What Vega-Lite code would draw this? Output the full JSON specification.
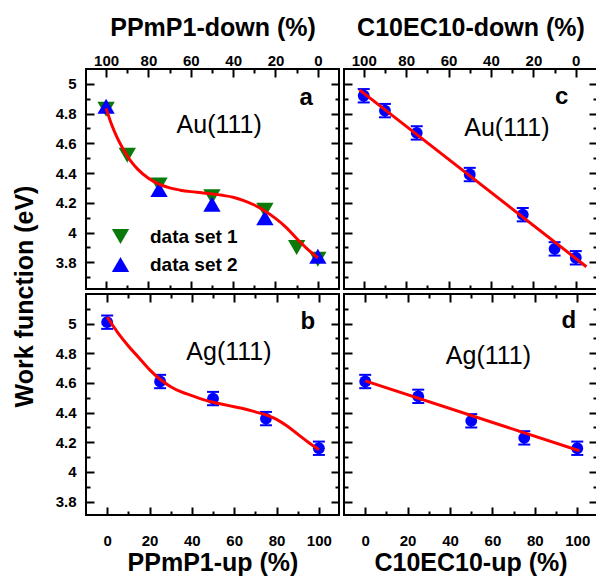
{
 "$schema": "https://vega.github.io/schema/vega-lite/v6.json",
 "background": "white",
 "padding": {"left": 11, "top": 14, "right": 0, "bottom": 0},
 "autosize": {"type": "pad"},
 "config": {
  "font": "Liberation Sans",
  "view": {"stroke": "black", "strokeWidth": 2},
  "axis": {"grid": false, "domain": false, "tickColor": "black", "tickWidth": 2, "labelColor": "black", "labelFont": "Liberation Sans", "labelFontSize": 15, "labelFontWeight": "bold", "titleColor": "black", "titleFont": "Liberation Sans", "titleFontSize": 25, "titleFontWeight": "bold", "labelFlush": false, "labelOverlap": false},
  "legend": {"labelFont": "Liberation Sans", "labelFontSize": 19, "labelFontWeight": "bold", "labelColor": "black"}
 },
 "datasets": {
  "a1": [
   {"down": 100, "wf": 4.83, "set": "data set 1"},
   {"down": 90, "wf": 4.52, "set": "data set 1"},
   {"down": 75, "wf": 4.32, "set": "data set 1"},
   {"down": 50, "wf": 4.24, "set": "data set 1"},
   {"down": 25, "wf": 4.15, "set": "data set 1"},
   {"down": 10, "wf": 3.9, "set": "data set 1"},
   {"down": 0, "wf": 3.82, "set": "data set 1"}
  ],
  "a2": [
   {"down": 100, "wf": 4.85, "set": "data set 2"},
   {"down": 75, "wf": 4.29, "set": "data set 2"},
   {"down": 50, "wf": 4.19, "set": "data set 2"},
   {"down": 25, "wf": 4.1, "set": "data set 2"},
   {"down": 0, "wf": 3.84, "set": "data set 2"}
  ],
  "afit": [
   {"down": 100, "wf": 4.835}, {"down": 97.5, "wf": 4.73}, {"down": 95, "wf": 4.645}, {"down": 92.5, "wf": 4.575},
   {"down": 90, "wf": 4.515}, {"down": 87.5, "wf": 4.465}, {"down": 85, "wf": 4.425}, {"down": 80, "wf": 4.365},
   {"down": 75, "wf": 4.325}, {"down": 70, "wf": 4.3}, {"down": 65, "wf": 4.285}, {"down": 60, "wf": 4.275},
   {"down": 55, "wf": 4.268}, {"down": 50, "wf": 4.26}, {"down": 45, "wf": 4.25}, {"down": 40, "wf": 4.237},
   {"down": 35, "wf": 4.215}, {"down": 30, "wf": 4.185}, {"down": 25, "wf": 4.145}, {"down": 20, "wf": 4.095},
   {"down": 15, "wf": 4.035}, {"down": 10, "wf": 3.96}, {"down": 5, "wf": 3.89}, {"down": 0, "wf": 3.83}
  ],
  "alab": [{"x": 46.6, "y": 4.67, "t": "Au(111)"}],
  "alet": [{"x": 5.5, "y": 4.861, "t": "a"}],
  "bpts": [
   {"up": 0, "wf": 5.01, "lo": 4.965, "hi": 5.055},
   {"up": 25, "wf": 4.61, "lo": 4.565, "hi": 4.655},
   {"up": 50, "wf": 4.495, "lo": 4.45, "hi": 4.54},
   {"up": 75, "wf": 4.36, "lo": 4.315, "hi": 4.405},
   {"up": 100, "wf": 4.16, "lo": 4.115, "hi": 4.205}
  ],
  "bfit": [
   {"up": 0, "wf": 5.045}, {"up": 5, "wf": 4.94}, {"up": 10, "wf": 4.85}, {"up": 15, "wf": 4.77},
   {"up": 20, "wf": 4.69}, {"up": 25, "wf": 4.625}, {"up": 30, "wf": 4.575}, {"up": 35, "wf": 4.54},
   {"up": 40, "wf": 4.515}, {"up": 45, "wf": 4.49}, {"up": 50, "wf": 4.47}, {"up": 55, "wf": 4.455},
   {"up": 60, "wf": 4.44}, {"up": 65, "wf": 4.425}, {"up": 70, "wf": 4.405}, {"up": 75, "wf": 4.385},
   {"up": 80, "wf": 4.355}, {"up": 85, "wf": 4.31}, {"up": 90, "wf": 4.255}, {"up": 95, "wf": 4.2},
   {"up": 100, "wf": 4.15}
  ],
  "blab": [{"x": 57.5, "y": 4.755, "t": "Ag(111)"}],
  "blet": [{"x": 94.8, "y": 4.966, "t": "b"}],
  "cpts": [
   {"down": 100, "wf": 4.92, "lo": 4.875, "hi": 4.965},
   {"down": 90, "wf": 4.82, "lo": 4.775, "hi": 4.865},
   {"down": 75, "wf": 4.67, "lo": 4.625, "hi": 4.715},
   {"down": 50, "wf": 4.39, "lo": 4.345, "hi": 4.435},
   {"down": 25, "wf": 4.12, "lo": 4.075, "hi": 4.165},
   {"down": 10, "wf": 3.89, "lo": 3.845, "hi": 3.935},
   {"down": 0, "wf": 3.83, "lo": 3.785, "hi": 3.875}
  ],
  "cfit": [{"down": 102, "wf": 4.96}, {"down": -5, "wf": 3.77}],
  "clab": [{"x": 32.5, "y": 4.648, "t": "Au(111)"}],
  "clet": [{"x": 6.6, "y": 4.865, "t": "c"}],
  "dpts": [
   {"up": 0, "wf": 4.61, "lo": 4.565, "hi": 4.655},
   {"up": 25, "wf": 4.51, "lo": 4.465, "hi": 4.555},
   {"up": 50, "wf": 4.345, "lo": 4.3, "hi": 4.39},
   {"up": 75, "wf": 4.23, "lo": 4.185, "hi": 4.275},
   {"up": 100, "wf": 4.16, "lo": 4.115, "hi": 4.205}
  ],
  "dfit": [{"up": 0, "wf": 4.614}, {"up": 101, "wf": 4.143}],
  "dlab": [{"x": 58.1, "y": 4.726, "t": "Ag(111)"}],
  "dlet": [{"x": 96, "y": 4.973, "t": "d"}]
 },
 "columns": 2,
 "spacing": 5,
 "bounds": "flush",
 "align": "each",
 "concat": [
  {
   "width": 253, "height": 220,
   "resolve": {"axis": {"x": "independent", "y": "independent"}},
   "layer": [
    {"data": {"name": "a1"}, "mark": {"type": "point", "filled": true, "opacity": 1, "size": 300},
     "encoding": {
      "x": {"field": "down", "type": "quantitative", "scale": {"domain": [-10, 109.5], "reverse": true, "nice": false, "zero": false}, "axis": {"orient": "top", "values": [0, 20, 40, 60, 80, 100], "ticks": false, "labelPadding": 1, "format": "d", "title": "PPmP1-down (%)", "titlePadding": 13}},
      "y": {"field": "wf", "type": "quantitative", "scale": {"domain": [3.62, 5.1], "nice": false, "zero": false}, "axis": {"orient": "left", "values": [3.8, 4, 4.2, 4.4, 4.6, 4.8, 5], "ticks": false, "labelPadding": 10, "format": "~g", "title": "Work function (eV)", "titleX": -49, "titleY": 227, "titleAngle": 270, "titleAlign": "center", "titleBaseline": "bottom"}},
      "color": {"field": "set", "type": "nominal", "scale": {"domain": ["data set 1", "data set 2"], "range": ["#0a7a0a", "#0000ff"]}, "legend": {"title": null, "orient": "none", "legendX": 25, "legendY": 158, "padding": 0, "symbolSize": 300, "labelOffset": 20, "rowPadding": 8, "symbolStrokeWidth": 0}},
      "shape": {"field": "set", "type": "nominal", "scale": {"domain": ["data set 1", "data set 2"], "range": ["triangle-down", "triangle-up"]}, "legend": {"title": null, "orient": "none", "legendX": 25, "legendY": 158, "padding": 0, "symbolSize": 300, "labelOffset": 20, "rowPadding": 8, "symbolStrokeWidth": 0}}
     }},
    {"data": {"name": "a2"}, "mark": {"type": "point", "filled": true, "opacity": 1, "size": 300},
     "encoding": {
      "x": {"field": "down", "type": "quantitative", "scale": {"domain": [-10, 109.5], "reverse": true, "nice": false, "zero": false}, "axis": {"orient": "top", "values": [0, 20, 40, 60, 80, 100], "labels": false, "tickSize": -8, "title": null}},
      "y": {"field": "wf", "type": "quantitative", "scale": {"domain": [3.62, 5.1], "nice": false, "zero": false}, "axis": {"orient": "left", "values": [3.8, 4, 4.2, 4.4, 4.6, 4.8, 5], "labels": false, "tickSize": -8, "title": null}},
      "color": {"field": "set", "type": "nominal", "scale": {"domain": ["data set 1", "data set 2"], "range": ["#0a7a0a", "#0000ff"]}, "legend": {"title": null, "orient": "none", "legendX": 25, "legendY": 158, "padding": 0, "symbolSize": 300, "labelOffset": 20, "rowPadding": 8, "symbolStrokeWidth": 0}},
      "shape": {"field": "set", "type": "nominal", "scale": {"domain": ["data set 1", "data set 2"], "range": ["triangle-down", "triangle-up"]}, "legend": {"title": null, "orient": "none", "legendX": 25, "legendY": 158, "padding": 0, "symbolSize": 300, "labelOffset": 20, "rowPadding": 8, "symbolStrokeWidth": 0}}
     }},
    {"data": {"name": "afit"}, "mark": {"type": "line", "color": "#ff0000", "strokeWidth": 3, "interpolate": "monotone"},
     "encoding": {
      "x": {"field": "down", "type": "quantitative", "scale": {"domain": [-10, 109.5], "reverse": true, "nice": false, "zero": false}, "axis": {"orient": "top", "values": [10, 30, 50, 70, 90], "labels": false, "tickSize": -4, "title": null}},
      "y": {"field": "wf", "type": "quantitative", "scale": {"domain": [3.62, 5.1], "nice": false, "zero": false}, "axis": {"orient": "left", "values": [3.7, 3.9, 4.1, 4.3, 4.5, 4.7, 4.9], "labels": false, "tickSize": -4, "title": null}}
     }},
    {"data": {"name": "alab"}, "mark": {"type": "text", "fontSize": 25, "fontWeight": "normal", "align": "center", "baseline": "alphabetic", "color": "black"},
     "encoding": {
      "x": {"field": "x", "type": "quantitative", "scale": {"domain": [-10, 109.5], "reverse": true, "nice": false, "zero": false}, "axis": {"orient": "bottom", "values": [0, 20, 40, 60, 80, 100], "labels": false, "tickSize": -8, "title": null}},
      "y": {"field": "y", "type": "quantitative", "scale": {"domain": [3.62, 5.1], "nice": false, "zero": false}, "axis": {"orient": "right", "values": [3.8, 4, 4.2, 4.4, 4.6, 4.8, 5], "labels": false, "tickSize": -8, "title": null}},
      "text": {"field": "t"}
     }},
    {"data": {"name": "alet"}, "mark": {"type": "text", "fontSize": 24, "fontWeight": "bold", "align": "center", "baseline": "alphabetic", "color": "black"},
     "encoding": {
      "x": {"field": "x", "type": "quantitative", "scale": {"domain": [-10, 109.5], "reverse": true, "nice": false, "zero": false}, "axis": {"orient": "bottom", "values": [10, 30, 50, 70, 90], "labels": false, "tickSize": -4, "title": null}},
      "y": {"field": "y", "type": "quantitative", "scale": {"domain": [3.62, 5.1], "nice": false, "zero": false}, "axis": {"orient": "right", "values": [3.7, 3.9, 4.1, 4.3, 4.5, 4.7, 4.9], "labels": false, "tickSize": -4, "title": null}},
      "text": {"field": "t"}
     }}
   ]
  },
  {
   "width": 253, "height": 220,
   "resolve": {"axis": {"x": "independent", "y": "independent"}},
   "layer": [
    {"data": {"name": "cpts"}, "mark": {"type": "rule", "color": "#0000ff", "strokeWidth": 2},
     "encoding": {
      "x": {"field": "down", "type": "quantitative", "scale": {"domain": [-10, 109.3], "reverse": true, "nice": false, "zero": false}, "axis": {"orient": "top", "values": [0, 20, 40, 60, 80, 100], "ticks": false, "labelPadding": 1, "format": "d", "title": "C10EC10-down (%)", "titlePadding": 13}},
      "y": {"field": "lo", "type": "quantitative", "scale": {"domain": [3.62, 5.1], "nice": false, "zero": false}, "axis": {"orient": "left", "values": [3.8, 4, 4.2, 4.4, 4.6, 4.8, 5], "labels": false, "tickSize": -8, "title": null}},
      "y2": {"field": "hi"}
     }},
    {"data": {"name": "cpts"}, "mark": {"type": "tick", "orient": "horizontal", "color": "#0000ff", "size": 12, "thickness": 2, "opacity": 1},
     "encoding": {
      "x": {"field": "down", "type": "quantitative", "scale": {"domain": [-10, 109.3], "reverse": true, "nice": false, "zero": false}, "axis": {"orient": "top", "values": [0, 20, 40, 60, 80, 100], "labels": false, "tickSize": -8, "title": null}},
      "y": {"field": "lo", "type": "quantitative", "scale": {"domain": [3.62, 5.1], "nice": false, "zero": false}, "axis": {"orient": "left", "values": [3.7, 3.9, 4.1, 4.3, 4.5, 4.7, 4.9], "labels": false, "tickSize": -4, "title": null}}
     }},
    {"data": {"name": "cpts"}, "mark": {"type": "tick", "orient": "horizontal", "color": "#0000ff", "size": 12, "thickness": 2, "opacity": 1},
     "encoding": {
      "x": {"field": "down", "type": "quantitative", "scale": {"domain": [-10, 109.3], "reverse": true, "nice": false, "zero": false}, "axis": {"orient": "top", "values": [10, 30, 50, 70, 90], "labels": false, "tickSize": -4, "title": null}},
      "y": {"field": "hi", "type": "quantitative", "scale": {"domain": [3.62, 5.1], "nice": false, "zero": false}, "axis": {"orient": "right", "values": [3.8, 4, 4.2, 4.4, 4.6, 4.8, 5], "labels": false, "tickSize": -8, "title": null}}
     }},
    {"data": {"name": "cpts"}, "mark": {"type": "point", "filled": true, "opacity": 1, "size": 140, "color": "#0000ff"},
     "encoding": {
      "x": {"field": "down", "type": "quantitative", "scale": {"domain": [-10, 109.3], "reverse": true, "nice": false, "zero": false}, "axis": {"orient": "bottom", "values": [0, 20, 40, 60, 80, 100], "labels": false, "tickSize": -8, "title": null}},
      "y": {"field": "wf", "type": "quantitative", "scale": {"domain": [3.62, 5.1], "nice": false, "zero": false}, "axis": {"orient": "right", "values": [3.7, 3.9, 4.1, 4.3, 4.5, 4.7, 4.9], "labels": false, "tickSize": -4, "title": null}}
     }},
    {"data": {"name": "cfit"}, "mark": {"type": "line", "color": "#ff0000", "strokeWidth": 3},
     "encoding": {
      "x": {"field": "down", "type": "quantitative", "scale": {"domain": [-10, 109.3], "reverse": true, "nice": false, "zero": false}, "axis": {"orient": "bottom", "values": [10, 30, 50, 70, 90], "labels": false, "tickSize": -4, "title": null}},
      "y": {"field": "wf", "type": "quantitative", "scale": {"domain": [3.62, 5.1], "nice": false, "zero": false}, "axis": null}
     }},
    {"data": {"name": "clab"}, "mark": {"type": "text", "fontSize": 25, "fontWeight": "normal", "align": "center", "baseline": "alphabetic", "color": "black"},
     "encoding": {
      "x": {"field": "x", "type": "quantitative", "scale": {"domain": [-10, 109.3], "reverse": true, "nice": false, "zero": false}, "axis": null},
      "y": {"field": "y", "type": "quantitative", "scale": {"domain": [3.62, 5.1], "nice": false, "zero": false}, "axis": null},
      "text": {"field": "t"}
     }},
    {"data": {"name": "clet"}, "mark": {"type": "text", "fontSize": 24, "fontWeight": "bold", "align": "center", "baseline": "alphabetic", "color": "black"},
     "encoding": {
      "x": {"field": "x", "type": "quantitative", "scale": {"domain": [-10, 109.3], "reverse": true, "nice": false, "zero": false}, "axis": null},
      "y": {"field": "y", "type": "quantitative", "scale": {"domain": [3.62, 5.1], "nice": false, "zero": false}, "axis": null},
      "text": {"field": "t"}
     }}
   ]
  },
  {
   "width": 253, "height": 221,
   "resolve": {"axis": {"x": "independent", "y": "independent"}},
   "layer": [
    {"data": {"name": "bpts"}, "mark": {"type": "rule", "color": "#0000ff", "strokeWidth": 2},
     "encoding": {
      "x": {"field": "up", "type": "quantitative", "scale": {"domain": [-10, 109.5], "nice": false, "zero": false}, "axis": {"orient": "bottom", "values": [0, 20, 40, 60, 80, 100], "ticks": false, "labelPadding": 18, "format": "d", "title": "PPmP1-up (%)", "titlePadding": 2}},
      "y": {"field": "lo", "type": "quantitative", "scale": {"domain": [3.71, 5.2], "nice": false, "zero": false}, "axis": {"orient": "left", "values": [3.8, 4, 4.2, 4.4, 4.6, 4.8, 5], "ticks": false, "labelPadding": 10, "format": "~g", "title": null}},
      "y2": {"field": "hi"}
     }},
    {"data": {"name": "bpts"}, "mark": {"type": "tick", "orient": "horizontal", "color": "#0000ff", "size": 12, "thickness": 2, "opacity": 1},
     "encoding": {
      "x": {"field": "up", "type": "quantitative", "scale": {"domain": [-10, 109.5], "nice": false, "zero": false}, "axis": {"orient": "bottom", "values": [0, 20, 40, 60, 80, 100], "labels": false, "tickSize": -8, "title": null}},
      "y": {"field": "lo", "type": "quantitative", "scale": {"domain": [3.71, 5.2], "nice": false, "zero": false}, "axis": {"orient": "left", "values": [3.8, 4, 4.2, 4.4, 4.6, 4.8, 5], "labels": false, "tickSize": -8, "title": null}}
     }},
    {"data": {"name": "bpts"}, "mark": {"type": "tick", "orient": "horizontal", "color": "#0000ff", "size": 12, "thickness": 2, "opacity": 1},
     "encoding": {
      "x": {"field": "up", "type": "quantitative", "scale": {"domain": [-10, 109.5], "nice": false, "zero": false}, "axis": {"orient": "bottom", "values": [10, 30, 50, 70, 90], "labels": false, "tickSize": -4, "title": null}},
      "y": {"field": "hi", "type": "quantitative", "scale": {"domain": [3.71, 5.2], "nice": false, "zero": false}, "axis": {"orient": "left", "values": [3.9, 4.1, 4.3, 4.5, 4.7, 4.9, 5.1], "labels": false, "tickSize": -4, "title": null}}
     }},
    {"data": {"name": "bpts"}, "mark": {"type": "point", "filled": true, "opacity": 1, "size": 140, "color": "#0000ff"},
     "encoding": {
      "x": {"field": "up", "type": "quantitative", "scale": {"domain": [-10, 109.5], "nice": false, "zero": false}, "axis": {"orient": "top", "values": [0, 20, 40, 60, 80, 100], "labels": false, "tickSize": -8, "title": null}},
      "y": {"field": "wf", "type": "quantitative", "scale": {"domain": [3.71, 5.2], "nice": false, "zero": false}, "axis": {"orient": "right", "values": [3.8, 4, 4.2, 4.4, 4.6, 4.8, 5], "labels": false, "tickSize": -8, "title": null}}
     }},
    {"data": {"name": "bfit"}, "mark": {"type": "line", "color": "#ff0000", "strokeWidth": 3, "interpolate": "monotone"},
     "encoding": {
      "x": {"field": "up", "type": "quantitative", "scale": {"domain": [-10, 109.5], "nice": false, "zero": false}, "axis": {"orient": "top", "values": [10, 30, 50, 70, 90], "labels": false, "tickSize": -4, "title": null}},
      "y": {"field": "wf", "type": "quantitative", "scale": {"domain": [3.71, 5.2], "nice": false, "zero": false}, "axis": {"orient": "right", "values": [3.9, 4.1, 4.3, 4.5, 4.7, 4.9, 5.1], "labels": false, "tickSize": -4, "title": null}}
     }},
    {"data": {"name": "blab"}, "mark": {"type": "text", "fontSize": 25, "fontWeight": "normal", "align": "center", "baseline": "alphabetic", "color": "black"},
     "encoding": {
      "x": {"field": "x", "type": "quantitative", "scale": {"domain": [-10, 109.5], "nice": false, "zero": false}, "axis": null},
      "y": {"field": "y", "type": "quantitative", "scale": {"domain": [3.71, 5.2], "nice": false, "zero": false}, "axis": null},
      "text": {"field": "t"}
     }},
    {"data": {"name": "blet"}, "mark": {"type": "text", "fontSize": 24, "fontWeight": "bold", "align": "center", "baseline": "alphabetic", "color": "black"},
     "encoding": {
      "x": {"field": "x", "type": "quantitative", "scale": {"domain": [-10, 109.5], "nice": false, "zero": false}, "axis": null},
      "y": {"field": "y", "type": "quantitative", "scale": {"domain": [3.71, 5.2], "nice": false, "zero": false}, "axis": null},
      "text": {"field": "t"}
     }}
   ]
  },
  {
   "width": 253, "height": 221,
   "resolve": {"axis": {"x": "independent", "y": "independent"}},
   "layer": [
    {"data": {"name": "dpts"}, "mark": {"type": "rule", "color": "#0000ff", "strokeWidth": 2},
     "encoding": {
      "x": {"field": "up", "type": "quantitative", "scale": {"domain": [-10, 109.3], "nice": false, "zero": false}, "axis": {"orient": "bottom", "values": [0, 20, 40, 60, 80, 100], "ticks": false, "labelPadding": 18, "format": "d", "title": "C10EC10-up (%)", "titlePadding": 2}},
      "y": {"field": "lo", "type": "quantitative", "scale": {"domain": [3.71, 5.2], "nice": false, "zero": false}, "axis": {"orient": "left", "values": [3.8, 4, 4.2, 4.4, 4.6, 4.8, 5], "labels": false, "tickSize": -8, "title": null}},
      "y2": {"field": "hi"}
     }},
    {"data": {"name": "dpts"}, "mark": {"type": "tick", "orient": "horizontal", "color": "#0000ff", "size": 12, "thickness": 2, "opacity": 1},
     "encoding": {
      "x": {"field": "up", "type": "quantitative", "scale": {"domain": [-10, 109.3], "nice": false, "zero": false}, "axis": {"orient": "bottom", "values": [0, 20, 40, 60, 80, 100], "labels": false, "tickSize": -8, "title": null}},
      "y": {"field": "lo", "type": "quantitative", "scale": {"domain": [3.71, 5.2], "nice": false, "zero": false}, "axis": {"orient": "left", "values": [3.9, 4.1, 4.3, 4.5, 4.7, 4.9, 5.1], "labels": false, "tickSize": -4, "title": null}}
     }},
    {"data": {"name": "dpts"}, "mark": {"type": "tick", "orient": "horizontal", "color": "#0000ff", "size": 12, "thickness": 2, "opacity": 1},
     "encoding": {
      "x": {"field": "up", "type": "quantitative", "scale": {"domain": [-10, 109.3], "nice": false, "zero": false}, "axis": {"orient": "bottom", "values": [10, 30, 50, 70, 90], "labels": false, "tickSize": -4, "title": null}},
      "y": {"field": "hi", "type": "quantitative", "scale": {"domain": [3.71, 5.2], "nice": false, "zero": false}, "axis": {"orient": "right", "values": [3.8, 4, 4.2, 4.4, 4.6, 4.8, 5], "labels": false, "tickSize": -8, "title": null}}
     }},
    {"data": {"name": "dpts"}, "mark": {"type": "point", "filled": true, "opacity": 1, "size": 140, "color": "#0000ff"},
     "encoding": {
      "x": {"field": "up", "type": "quantitative", "scale": {"domain": [-10, 109.3], "nice": false, "zero": false}, "axis": {"orient": "top", "values": [0, 20, 40, 60, 80, 100], "labels": false, "tickSize": -8, "title": null}},
      "y": {"field": "wf", "type": "quantitative", "scale": {"domain": [3.71, 5.2], "nice": false, "zero": false}, "axis": {"orient": "right", "values": [3.9, 4.1, 4.3, 4.5, 4.7, 4.9, 5.1], "labels": false, "tickSize": -4, "title": null}}
     }},
    {"data": {"name": "dfit"}, "mark": {"type": "line", "color": "#ff0000", "strokeWidth": 3},
     "encoding": {
      "x": {"field": "up", "type": "quantitative", "scale": {"domain": [-10, 109.3], "nice": false, "zero": false}, "axis": {"orient": "top", "values": [10, 30, 50, 70, 90], "labels": false, "tickSize": -4, "title": null}},
      "y": {"field": "wf", "type": "quantitative", "scale": {"domain": [3.71, 5.2], "nice": false, "zero": false}, "axis": null}
     }},
    {"data": {"name": "dlab"}, "mark": {"type": "text", "fontSize": 25, "fontWeight": "normal", "align": "center", "baseline": "alphabetic", "color": "black"},
     "encoding": {
      "x": {"field": "x", "type": "quantitative", "scale": {"domain": [-10, 109.3], "nice": false, "zero": false}, "axis": null},
      "y": {"field": "y", "type": "quantitative", "scale": {"domain": [3.71, 5.2], "nice": false, "zero": false}, "axis": null},
      "text": {"field": "t"}
     }},
    {"data": {"name": "dlet"}, "mark": {"type": "text", "fontSize": 24, "fontWeight": "bold", "align": "center", "baseline": "alphabetic", "color": "black"},
     "encoding": {
      "x": {"field": "x", "type": "quantitative", "scale": {"domain": [-10, 109.3], "nice": false, "zero": false}, "axis": null},
      "y": {"field": "y", "type": "quantitative", "scale": {"domain": [3.71, 5.2], "nice": false, "zero": false}, "axis": null},
      "text": {"field": "t"}
     }}
   ]
  }
 ]
}
